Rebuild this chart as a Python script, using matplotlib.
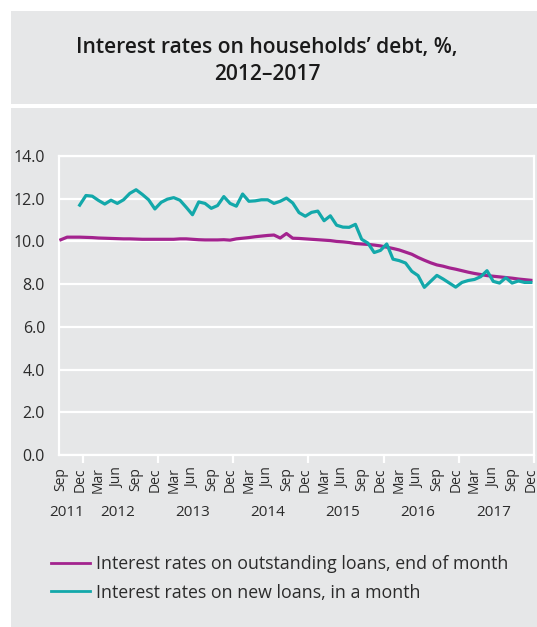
import numpy as np
import pandas as pd
import matplotlib.pyplot as plt
from matplotlib.patches import Rectangle
from matplotlib.transforms import blended_transform_factory

plt.rcParams['font.family'] = ['Open Sans', 'DejaVu Sans']

# monthly observations, Sep 2011 - Dec 2017
months = pd.date_range("2011-09-01", "2017-12-01", freq="MS")

outstanding = [
    10.08, 10.20, 10.20, 10.20, 10.19, 10.18, 10.16, 10.15, 10.14, 10.13,
    10.12, 10.12, 10.11, 10.10, 10.10, 10.10, 10.10, 10.10, 10.10, 10.12,
    10.12, 10.10, 10.08, 10.07, 10.07, 10.07, 10.08, 10.06, 10.12, 10.15,
    10.18, 10.22, 10.25, 10.28, 10.30, 10.16, 10.37, 10.15, 10.14, 10.12,
    10.10, 10.08, 10.06, 10.04, 10.00, 9.98, 9.95, 9.90, 9.88, 9.86,
    9.83, 9.79, 9.73, 9.67, 9.60, 9.50, 9.40, 9.25, 9.12, 9.00,
    8.90, 8.84, 8.76, 8.70, 8.63, 8.56, 8.50, 8.45, 8.40, 8.37,
    8.34, 8.31, 8.28, 8.24, 8.21, 8.18,
]

# new loans series starts in Dec 2011
new_loans = [
    11.70, 12.15, 12.12, 11.92, 11.75, 11.93, 11.78, 11.95, 12.25, 12.42,
    12.20, 11.95, 11.52, 11.83, 11.98, 12.05, 11.93, 11.60, 11.25, 11.85,
    11.78, 11.55, 11.68, 12.10, 11.78, 11.65, 12.22, 11.88, 11.90, 11.95,
    11.95, 11.78, 11.88, 12.03, 11.80, 11.35, 11.18, 11.36, 11.42, 10.97,
    11.20, 10.76, 10.67, 10.66, 10.80, 10.10, 9.92, 9.48, 9.58, 9.88,
    9.17, 9.10, 8.99, 8.60, 8.40, 7.85, 8.13, 8.41, 8.24, 8.05,
    7.86, 8.08, 8.17, 8.22, 8.35, 8.63, 8.13, 8.05, 8.30, 8.05,
    8.15, 8.08, 8.08,
]

yticks = [0, 2, 4, 6, 8, 10, 12, 14]

PURPLE = "#a3238e"
TEAL = "#13a8aa"
PANEL = "#e6e7e8"
TEXT = "#2b2b2b"

x_all = np.arange(len(months))
x_new = x_all[len(months) - len(new_loans):]

fig = plt.figure(figsize=(5.37, 6.27), dpi=100)

# grey panels behind the title and the chart
fig.add_artist(Rectangle((11 / 537, 1 - 104 / 627), 1, 93 / 627,
                         transform=fig.transFigure, facecolor=PANEL,
                         edgecolor="none", zorder=0))
fig.add_artist(Rectangle((11 / 537, 0), 1, 1 - 108 / 627,
                         transform=fig.transFigure, facecolor=PANEL,
                         edgecolor="none", zorder=0))

for txt, ypx in [("Interest rates on households\u2019 debt, %,", 47),
                 ("2012\u20132017", 74)]:
    fig.text(0.497, 1 - ypx / 627, txt, ha="center", va="center",
             fontsize=15.1, fontweight="semibold", color="#1a1a1a")

ax = fig.add_axes([59 / 537, 1 - 455 / 627, (534 - 59) / 537, (455 - 156) / 627])
ax.set_facecolor(PANEL)

ax.plot(x_all, outstanding, color=PURPLE, lw=2.3, zorder=3,
        label="Interest rates on outstanding loans, end of month")
ax.plot(x_new, new_loans, color=TEAL, lw=2.3, zorder=3,
        label="Interest rates on new loans, in a month")

ax.set_ylim(0, 14)
ax.set_xlim(-0.3, len(months) - 1 + 0.3)
ax.set_yticks(yticks)
ax.set_yticklabels([f"{v:.1f}" for v in yticks])
ax.grid(axis="y", color="white", lw=1.6, zorder=1)
ax.set_axisbelow(True)
for s in ax.spines.values():
    s.set_color("white")
    s.set_linewidth(1.6)

# month labels every quarter, year separators as minor ticks
quarter = x_all[::3]
ax.set_xticks(quarter)
ax.set_xticklabels([months[i].strftime("%b") for i in quarter], rotation=90,
                   fontsize=10, color=TEXT)
year_starts = [i for i in x_all if months[i].month == 1]
ax.set_xticks([i - 0.5 for i in year_starts] + [len(months) - 0.5], minor=True)
ax.tick_params(axis="x", which="major", length=0, pad=9)
ax.tick_params(axis="x", which="minor", length=6, width=1.6, color="white")
ax.tick_params(axis="y", length=0, pad=10, labelsize=11.5, labelcolor=TEXT)

trans = blended_transform_factory(ax.transData, ax.transAxes)
for yr in sorted(set(months.year)):
    idx = x_all[months.year == yr]
    ax.text(idx.mean() - 0.5, -0.192, str(yr), transform=trans, ha="center",
            va="center", fontsize=11, color=TEXT)

leg = fig.legend(loc="upper left", bbox_to_anchor=(51 / 537, 1 - 555 / 627),
                 frameon=False, fontsize=12.8, handlelength=2.2, handletextpad=0.35,
                 labelspacing=0.6, borderpad=0, borderaxespad=0, labelcolor=TEXT)
for h in leg.legend_handles:
    h.set_linewidth(2)

fig.savefig("out.png", dpi=100)
